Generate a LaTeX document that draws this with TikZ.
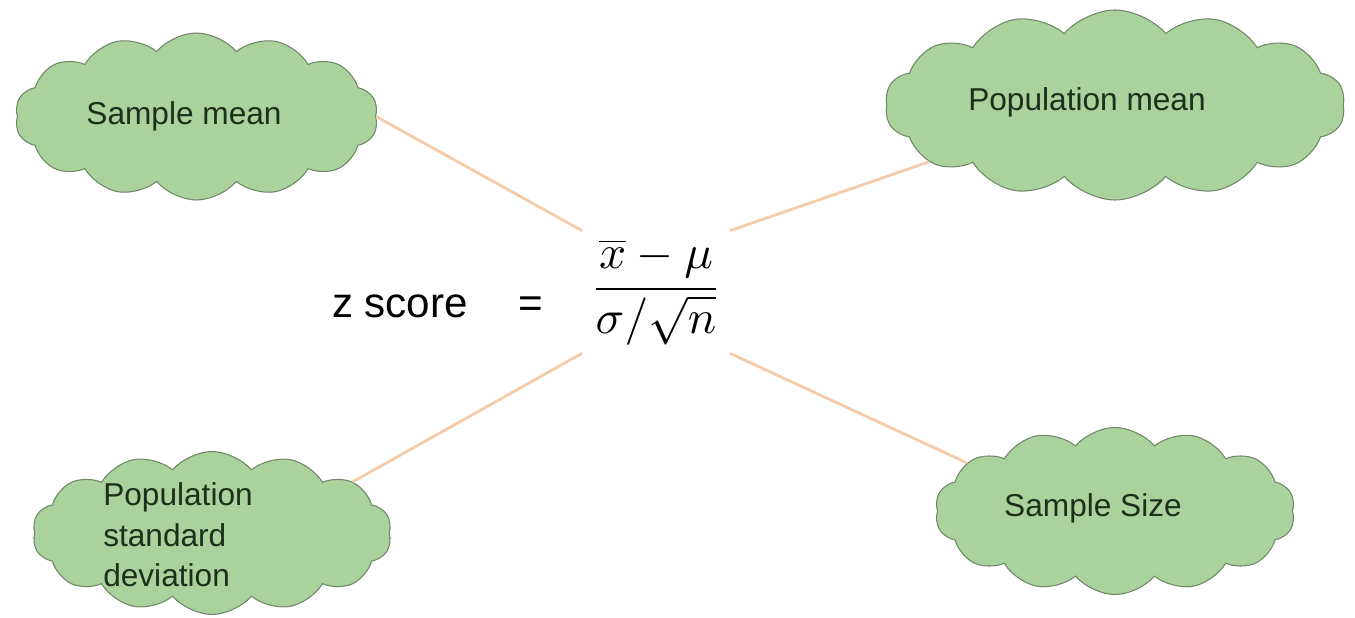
\documentclass[tikz,border=0pt]{standalone}
\usepackage{fontspec}
\setmainfont{Liberation Sans}
\usepackage{amsmath}
\usepackage{tikz}
\usetikzlibrary{shapes.symbols,positioning}
\definecolor{puffgreen}{RGB}{169,210,156}
\definecolor{puffedge}{RGB}{112,135,104}
\definecolor{inkgreen}{RGB}{28,48,26}
\definecolor{peach}{RGB}{244,204,170}

\begin{document}
\begin{tikzpicture}[
  puff/.style={cloud,cloud puffs=14,cloud puff arc=100,draw=puffedge,line width=.6pt,fill=puffgreen,inner sep=0pt},
  lbl/.style={text=inkgreen,font=\fontsize{18}{23}\selectfont,align=left,inner sep=0pt},
  link/.style={draw=peach,line width=1.6pt}]
\useasboundingbox (0,0) rectangle (27.1,12.34);
\node[puff,minimum width=7.26cm,minimum height=3.34cm] (smean) at (3.93,10.01){};
\node[puff,minimum width=9.2cm,minimum height=3.8cm] (pmean) at (22.3,10.24){};
\node[puff,minimum width=7.18cm,minimum height=3.26cm] (psd) at (4.24,1.68){};
\node[puff,minimum width=7.2cm,minimum height=3.34cm] (ssize) at (22.3,2.12){};
\node[lbl] (smeant) at (3.68,10.02){Sample mean};
\node[lbl] (pmeant) at (21.74,10.3){Population mean};
\node[lbl] (psdt) at (3.56,1.64){Population\\standard\\deviation};
\node[lbl] (ssizet) at (21.86,2.18){Sample Size};
% the formula in the middle
\node[inner sep=1.5pt,scale=2.7,transform shape] (zfrac) at (13.12,6.5){$\dfrac{\overline{x}-\mu}{\sigma/\sqrt{n}}$};
\node[font=\fontsize{24}{28}\selectfont,inner sep=0pt] (zname) at (8.0,6.22){z score};
\node[font=\fontsize{24}{28}\selectfont,inner sep=0pt] (zeq) at (10.62,6.2){=};
\draw[link] (smean.east)--(zfrac.north west); \draw[link] (pmean.197)--(zfrac.north east);
\draw[link] (psd.20)--(zfrac.south west); \draw[link] (ssize.162)--(zfrac.south east);
\end{tikzpicture}
\end{document}
